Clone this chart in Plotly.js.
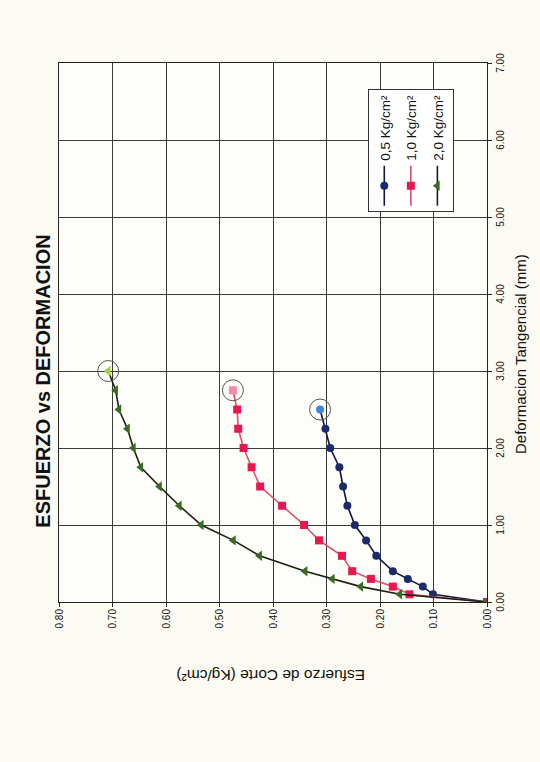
<!DOCTYPE html>
<html>
<head>
<meta charset="utf-8">
<script src="https://cdn.plot.ly/plotly-3.0.1.min.js"></script>
<style>
  html, body { margin:0; padding:0; width:540px; height:762px; overflow:hidden; background:#fbfbf3; }
  #frame { position:absolute; left:7px; top:1px; width:540px; height:756px;
           border-left:1px solid #555; border-top:1px solid #999; border-bottom:1px solid #555; }
  #rot { position:absolute; left:0; top:0; width:762px; height:540px;
         transform-origin:0 0; transform:translate(0px, 762px) rotate(-90deg); }
</style>
</head>
<body>
<div id="frame"></div>
<div id="rot"></div>
<script>
// Deformacion tangencial (mm) and esfuerzo de corte (Kg/cm2) for each normal load
const seriesNames = ["0,5 Kg/cm²", "1,0 Kg/cm²", "2,0 Kg/cm²"];

const def05 = [0, 0.10, 0.20, 0.30, 0.40, 0.60, 0.80, 1.00, 1.25, 1.50, 1.75, 2.00, 2.25, 2.50];
const esf05 = [0, 0.101, 0.120, 0.148, 0.176, 0.207, 0.226, 0.247, 0.261, 0.269, 0.276, 0.293, 0.302, 0.312];

const def10 = [0, 0.10, 0.20, 0.30, 0.40, 0.60, 0.80, 1.00, 1.25, 1.50, 1.75, 2.00, 2.25, 2.50, 2.75];
const esf10 = [0, 0.145, 0.176, 0.217, 0.252, 0.271, 0.314, 0.342, 0.383, 0.424, 0.440, 0.455, 0.465, 0.467, 0.475];

const def20 = [0, 0.10, 0.20, 0.30, 0.40, 0.60, 0.80, 1.00, 1.25, 1.50, 1.75, 2.00, 2.25, 2.50, 2.75, 3.00];
const esf20 = [0, 0.163, 0.236, 0.289, 0.340, 0.425, 0.474, 0.534, 0.575, 0.612, 0.647, 0.661, 0.672, 0.688, 0.694, 0.708];

const xTicks = [0, 1, 2, 3, 4, 5, 6, 7];
const yTicks = [0, 0.1, 0.2, 0.3, 0.4, 0.5, 0.6, 0.7, 0.8];

const styles = [
  {sym:"circle", size:8, mc:"#1b2a6b", hi:"#3f86db", lc:"#0f173d"},
  {sym:"square", size:8, mc:"#e8174f", hi:"#f28aa8", lc:"#de4f6e"},
  {sym:"triangle-up", size:9, mc:"#3b6a22", hi:"#a9cc4c", lc:"#16220f"}
];
const xs = [def05, def10, def20];
const ys = [esf05, esf10, esf20];

const traces = [];
for (let i = 0; i < 3; i++) {
  const n = xs[i].length;
  const colors = xs[i].map((_, k) => k === n - 1 ? styles[i].hi : styles[i].mc);
  traces.push({
    x: xs[i], y: ys[i], type: "scatter", mode: "lines+markers",
    name: seriesNames[i], legendgroup: "g" + i,
    line: {color: styles[i].lc, width: 1.6},
    marker: {symbol: styles[i].sym, size: styles[i].size, color: colors, line: {width: 0}}
  });
}
// circles marking the peak (last) value of each test
traces.push({
  x: xs.map(a => a[a.length - 1]),
  y: ys.map(a => a[a.length - 1]),
  type: "scatter", mode: "markers", showlegend: false,
  marker: {symbol: "circle-open", size: 21, color: "#555", line: {width: 1, color: "#555"}}
});

const font = "'Liberation Sans', Arial, sans-serif";
const layout = {
  width: 762, height: 540,
  margin: {l: 160, r: 63, t: 59, b: 53},
  paper_bgcolor: "#fbfbf3", plot_bgcolor: "#fdfdf9",
  font: {family: font, color: "#111"},
  showlegend: true,
  title: {text: "<b>ESFUERZO vs DEFORMACION</b>", x: 0.5, xref: "container", xanchor: "center",
          y: 0.921, yref: "container", yanchor: "middle",
          font: {family: font, size: 20, color: "#111"}},
  xaxis: {range: [0, 7], tickvals: xTicks, tickformat: ".2f", showgrid: true, gridcolor: "#3a3a3a", gridwidth: 1,
          showline: true, linecolor: "#222", mirror: true, ticks: "outside", ticklen: 4, tickcolor: "#222",
          tickfont: {size: 10, family: font}, zeroline: false},
  yaxis: {range: [0, 0.8], tickvals: yTicks, tickformat: ".2f", showgrid: true, gridcolor: "#3a3a3a", gridwidth: 1,
          showline: true, linecolor: "#222", mirror: true, ticks: "outside", ticklen: 4, tickcolor: "#222",
          tickfont: {size: 10, family: font}, zeroline: false},
  legend: {x: 0.724, y: 0.278, xanchor: "left", yanchor: "top", bgcolor: "#ffffff",
           bordercolor: "#333", borderwidth: 1, font: {size: 13.5, family: font}, tracegroupgap: 6,
           itemwidth: 40},
  annotations: [
    {text: "Deformacion Tangencial (mm)", xref: "paper", yref: "paper", x: 0.46, y: -0.078,
     xanchor: "center", yanchor: "middle", showarrow: false, font: {size: 15, family: font}},
    {text: "Esfuerzo de Corte (Kg/cm²)", xref: "paper", yref: "paper", x: -0.135, y: 0.505,
     xanchor: "center", yanchor: "middle", textangle: -90, showarrow: false, font: {size: 15.5, family: font}}
  ]
};
Plotly.newPlot("rot", traces, layout, {staticPlot: true, displayModeBar: false});
</script>
</body>
</html>
